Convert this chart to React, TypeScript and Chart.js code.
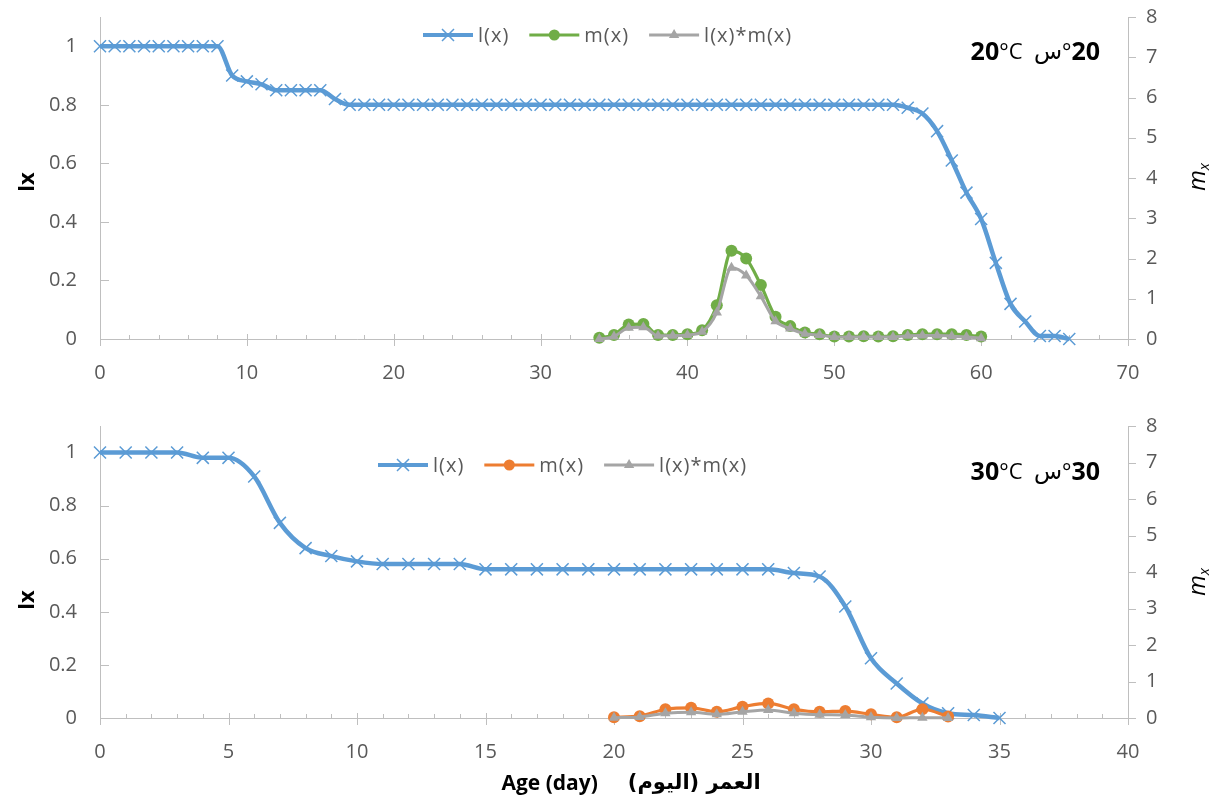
import React, { useEffect, useRef } from 'react';
import { Chart, registerables } from 'chart.js';

Chart.register(...registerables);

const FONT = "'Open Sans', 'DejaVu Sans', sans-serif";
const BLUE = '#5B9BD5';
const GREEN = '#70AD47';
const ORANGE = '#ED7D31';
const GRAY = '#A5A5A5';
const AXIS = '#BFBFBF';
const LABEL = '#595959';

// ---------- 20 °C panel ----------
const lxTopStartDay = 0;
const lxTop = [
  1, 1, 1, 1, 1, 1, 1, 1, 1,
  0.9, 0.88, 0.87, 0.85, 0.85, 0.85, 0.85, 0.82,
  0.8, 0.8, 0.8, 0.8, 0.8, 0.8, 0.8, 0.8, 0.8, 0.8,
  0.8, 0.8, 0.8, 0.8, 0.8, 0.8, 0.8, 0.8, 0.8, 0.8,
  0.8, 0.8, 0.8, 0.8, 0.8, 0.8, 0.8, 0.8, 0.8, 0.8,
  0.8, 0.8, 0.8, 0.8, 0.8, 0.8, 0.8, 0.8,
  0.79, 0.77, 0.71, 0.61, 0.5, 0.41, 0.26, 0.12, 0.06, 0.01, 0.01, 0,
];
const mTopStartDay = 34;
const mTop = [
  0.03, 0.1, 0.36, 0.37, 0.1, 0.1, 0.12, 0.22, 0.84, 2.19,
  2.0, 1.34, 0.55, 0.32, 0.16, 0.12, 0.06, 0.06, 0.07, 0.06,
  0.07, 0.1, 0.12, 0.12, 0.12, 0.1, 0.06,
];
const lmTop = [
  0, 0.06, 0.28, 0.29, 0.08, 0.08, 0.1, 0.18, 0.66, 1.77,
  1.58, 1.06, 0.44, 0.26, 0.13, 0.1, 0.05, 0.05, 0.05, 0.05,
  0.05, 0.08, 0.09, 0.09, 0.07, 0.05, 0.02,
];

// ---------- 30 °C panel ----------
const lxBotStartDay = 0;
const lxBot = [
  1, 1, 1, 1, 0.98, 0.98, 0.91, 0.735, 0.64, 0.61,
  0.59, 0.58, 0.58, 0.58, 0.58, 0.56, 0.56, 0.56, 0.56, 0.56,
  0.56, 0.56, 0.56, 0.56, 0.56, 0.56, 0.56, 0.546, 0.533, 0.42,
  0.225, 0.13, 0.055, 0.018, 0.011, 0,
];
const mBotStartDay = 20;
const mBot = [0.02, 0.05, 0.24, 0.28, 0.17, 0.31, 0.4, 0.24, 0.17, 0.19, 0.1, 0.02, 0.24, 0.04];
const lmBot = [0.01, 0.03, 0.13, 0.16, 0.1, 0.17, 0.22, 0.13, 0.09, 0.08, 0.02, 0, 0.01, 0];

// ---------- axes / labels ----------
const legendLabels = ['l(x)', 'm(x)', 'l(x)*m(x)'];
const lxAxisMax = 1.1;
const lxTickStep = 0.2;
const mAxisMax = 8;
const mTickStep = 1;
const xTitleEn = 'Age (day)';
const xTitleAr = 'العمر (اليوم)';
const yTitleLeft = 'lx';

const pts = (start: number, arr: number[]) => arr.map((v, i) => ({ x: start + i, y: v }));

function drawMarker(ctx: CanvasRenderingContext2D, style: string, cx: number, cy: number, color: string) {
  ctx.save();
  ctx.strokeStyle = color;
  ctx.fillStyle = color;
  if (style === 'crossRot') {
    const d = 6;
    ctx.lineWidth = 1.5;
    ctx.beginPath();
    ctx.moveTo(cx - d, cy - d); ctx.lineTo(cx + d, cy + d);
    ctx.moveTo(cx - d, cy + d); ctx.lineTo(cx + d, cy - d);
    ctx.stroke();
  } else if (style === 'circle') {
    ctx.beginPath();
    ctx.arc(cx, cy, 5.5, 0, Math.PI * 2);
    ctx.fill();
  } else if (style === 'triangle') {
    const r = 6;
    ctx.beginPath();
    ctx.moveTo(cx, cy - r);
    ctx.lineTo(cx + r * 0.866, cy + r * 0.5);
    ctx.lineTo(cx - r * 0.866, cy + r * 0.5);
    ctx.closePath();
    ctx.fill();
  }
  ctx.restore();
}

type PanelCfg = {
  lx: number[]; lxStart: number;
  m: number[]; lm: number[]; mStart: number;
  mColor: string;
  xMax: number; xStep: number; xLabelEvery: number;
  height: number; areaTop: number; areaBottom: number;
  legendX: number; legendY: number;
  titleNum: string; titleY: number;
  lxTitleY: number; mxTitleY: number;
  showXTitle: boolean; xTitleY: number;
};

function makePlugin(cfg: PanelCfg) {
  return {
    id: 'decor',
    beforeDatasetsDraw(chart: any) {
      const ctx: CanvasRenderingContext2D = chart.ctx;
      const { left, right, bottom } = chart.chartArea;
      const sx = chart.scales.x, sy = chart.scales.y, sy1 = chart.scales.y1;
      ctx.save();
      ctx.strokeStyle = AXIS;
      ctx.lineWidth = 1;
      ctx.beginPath();
      sx.ticks.forEach((t: any) => {
        const px = Math.round(sx.getPixelForValue(t.value)) + 0.5;
        const major = Math.abs(t.value % cfg.xLabelEvery) < 1e-6;
        ctx.moveTo(px, bottom - (major ? 5 : 4));
        ctx.lineTo(px, bottom + (major ? 7 : 0));
      });
      sy.ticks.forEach((t: any) => {
        const py = Math.round(sy.getPixelForValue(t.value)) + 0.5;
        ctx.moveTo(left, py); ctx.lineTo(left + 9, py);
      });
      sy1.ticks.forEach((t: any) => {
        const py = Math.round(sy1.getPixelForValue(t.value)) + 0.5;
        ctx.moveTo(right, py); ctx.lineTo(right + 8, py);
      });
      ctx.stroke();
      ctx.restore();
    },
    afterDraw(chart: any) {
      const ctx: CanvasRenderingContext2D = chart.ctx;
      ctx.save();
      // legend
      const items = [
        { label: legendLabels[0], color: BLUE, style: 'crossRot', lw: 4 },
        { label: legendLabels[1], color: cfg.mColor, style: 'circle', lw: 3 },
        { label: legendLabels[2], color: GRAY, style: 'triangle', lw: 3 },
      ];
      ctx.font = `20px ${FONT}`;
      ctx.textBaseline = 'middle';
      ctx.textAlign = 'left';
      let x = cfg.legendX;
      const yc = cfg.legendY;
      for (const it of items) {
        ctx.strokeStyle = it.color;
        ctx.lineWidth = it.lw;
        ctx.beginPath();
        ctx.moveTo(x, yc); ctx.lineTo(x + 50, yc);
        ctx.stroke();
        drawMarker(ctx, it.style, x + 25, yc, it.color);
        ctx.fillStyle = LABEL;
        ctx.font = `20px ${FONT}`;
        (ctx as any).letterSpacing = '1px';
        ctx.fillText(it.label, x + 55, yc + 1);
        x += 55 + ctx.measureText(it.label).width + 20;
        (ctx as any).letterSpacing = '0px';
      }
      // panel title: "20°C  س°20"
      const segs = [
        { t: cfg.titleNum, f: `bold 25px ${FONT}` },
        { t: '°C', f: `22px ${FONT}` },
        { t: '  ', f: `22px ${FONT}` },
        { t: 'س', f: `23px 'DejaVu Sans', sans-serif` },
        { t: '°', f: `22px ${FONT}` },
        { t: cfg.titleNum, f: `bold 25px ${FONT}` },
      ];
      let tw = 0;
      for (const s of segs) { ctx.font = s.f; tw += ctx.measureText(s.t).width; }
      let tx = 1100 - tw;
      ctx.fillStyle = '#000';
      ctx.textAlign = 'left';
      ctx.textBaseline = 'middle';
      for (const s of segs) {
        ctx.font = s.f;
        ctx.fillText(s.t, tx, cfg.titleY);
        tx += ctx.measureText(s.t).width;
      }
      // left axis title
      ctx.save();
      ctx.translate(28, cfg.lxTitleY);
      ctx.rotate(-Math.PI / 2);
      ctx.font = `bold 22px ${FONT}`;
      ctx.textAlign = 'center';
      ctx.fillStyle = '#000';
      ctx.fillText(yTitleLeft, 0, 0);
      ctx.restore();
      // right axis title m_x
      ctx.save();
      ctx.translate(1197, cfg.mxTitleY);
      ctx.rotate(-Math.PI / 2);
      ctx.fillStyle = '#000';
      ctx.textBaseline = 'alphabetic';
      ctx.font = `italic 24px ${FONT}`;
      const mw = ctx.measureText('m').width;
      ctx.font = `italic 15px ${FONT}`;
      const xw = ctx.measureText('x').width;
      const sx0 = -(mw + xw) / 2;
      ctx.font = `italic 24px ${FONT}`;
      ctx.textAlign = 'left';
      ctx.fillText('m', sx0, 8);
      ctx.font = `italic 15px ${FONT}`;
      ctx.fillText('x', sx0 + mw, 12);
      ctx.restore();
      // x axis title
      if (cfg.showXTitle) {
        ctx.font = `bold 21px ${FONT}`;
        const ew = ctx.measureText(xTitleEn).width;
        ctx.font = `bold 21px 'DejaVu Sans', sans-serif`;
        const aw = ctx.measureText(xTitleAr).width;
        const gap = 30;
        const start = 631 - (ew + gap + aw) / 2;
        ctx.fillStyle = '#000';
        ctx.textBaseline = 'middle';
        ctx.font = `bold 21px ${FONT}`;
        ctx.textAlign = 'left';
        ctx.direction = 'ltr';
        ctx.fillText(xTitleEn, start, cfg.xTitleY);
        ctx.font = `bold 21px 'DejaVu Sans', sans-serif`;
        ctx.direction = 'rtl';
        ctx.textAlign = 'right';
        ctx.fillText(xTitleAr, start + ew + gap + aw, cfg.xTitleY);
      }
      ctx.restore();
    },
  };
}

function buildConfig(cfg: PanelCfg): any {
  const tickFont = { family: FONT, size: 20 };
  const gridOff = { display: true, drawOnChartArea: false, drawTicks: false };
  const border = { display: true, color: AXIS, width: 1 };
  const noPad = (s: any) => { s.paddingTop = 0; s.paddingBottom = 0; s.paddingLeft = 0; s.paddingRight = 0; };
  return {
    type: 'line',
    data: {
      datasets: [
        {
          label: legendLabels[0], data: pts(cfg.lxStart, cfg.lx), yAxisID: 'y',
          borderColor: BLUE, borderWidth: 4.5, pointStyle: 'crossRot', pointRadius: 8.5,
          pointBorderColor: BLUE, pointBorderWidth: 1.5, pointBackgroundColor: BLUE,
          cubicInterpolationMode: 'monotone', clip: false, order: 3, fill: false,
        },
        {
          label: legendLabels[1], data: pts(cfg.mStart, cfg.m), yAxisID: 'y1',
          borderColor: cfg.mColor, borderWidth: 3.2, pointStyle: 'circle', pointRadius: 6,
          pointBorderColor: cfg.mColor, pointBorderWidth: 0, pointBackgroundColor: cfg.mColor,
          cubicInterpolationMode: 'monotone', clip: false, order: 2, fill: false,
        },
        {
          label: legendLabels[2], data: pts(cfg.mStart, cfg.lm), yAxisID: 'y1',
          borderColor: GRAY, borderWidth: 3, pointStyle: 'triangle', pointRadius: 6,
          pointBorderColor: GRAY, pointBorderWidth: 0, pointBackgroundColor: GRAY,
          cubicInterpolationMode: 'monotone', clip: false, order: 1, fill: false,
        },
      ],
    },
    options: {
      responsive: false,
      animation: false,
      devicePixelRatio: 1,
      events: [],
      layout: { padding: { top: cfg.areaTop, left: 0, right: 0, bottom: 0 } },
      plugins: { legend: { display: false }, tooltip: { enabled: false }, title: { display: false } },
      scales: {
        x: {
          type: 'linear', min: 0, max: cfg.xMax,
          afterFit: (s: any) => { s.height = cfg.height - cfg.areaBottom; noPad(s); },
          ticks: {
            stepSize: cfg.xStep, autoSkip: false, maxRotation: 0, padding: 22,
            color: LABEL, font: tickFont,
            callback: (v: number) => (Math.abs(v % cfg.xLabelEvery) < 1e-6 ? String(v) : ''),
          },
          grid: gridOff, border,
        },
        y: {
          type: 'linear', position: 'left', min: 0, max: lxAxisMax,
          afterBuildTicks: (s: any) => { s.ticks = s.ticks.filter((t: any) => t.value <= 1.0001); },
          afterFit: (s: any) => { s.width = 100; noPad(s); },
          ticks: {
            stepSize: lxTickStep, padding: 23, color: LABEL, font: tickFont,
            callback: (v: number) => String(Math.round(v * 10) / 10),
          },
          grid: gridOff, border,
        },
        y1: {
          type: 'linear', position: 'right', min: 0, max: mAxisMax,
          afterFit: (s: any) => { s.width = 1216 - 1128; noPad(s); },
          ticks: { stepSize: mTickStep, padding: 18, color: LABEL, font: tickFont },
          grid: gridOff, border,
        },
      },
    },
    plugins: [makePlugin(cfg)],
  };
}

const topCfg: PanelCfg = {
  lx: lxTop, lxStart: lxTopStartDay, m: mTop, lm: lmTop, mStart: mTopStartDay,
  mColor: GREEN, xMax: 70, xStep: 2, xLabelEvery: 10,
  height: 400, areaTop: 17, areaBottom: 339,
  legendX: 423, legendY: 35, titleNum: '20', titleY: 53,
  lxTitleY: 182, mxTitleY: 177, showXTitle: false, xTitleY: 0,
};

const botCfg: PanelCfg = {
  lx: lxBot, lxStart: lxBotStartDay, m: mBot, lm: lmBot, mStart: mBotStartDay,
  mColor: ORANGE, xMax: 40, xStep: 1, xLabelEvery: 5,
  height: 404, areaTop: 26, areaBottom: 318,
  legendX: 378, legendY: 65, titleNum: '30', titleY: 73,
  lxTitleY: 200, mxTitleY: 182, showXTitle: true, xTitleY: 384,
};

function Panel({ cfg, top }: { cfg: PanelCfg; top: number }) {
  const ref = useRef<HTMLCanvasElement>(null);
  useEffect(() => {
    const chart = new Chart(ref.current as HTMLCanvasElement, buildConfig(cfg));
    return () => chart.destroy();
  }, []);
  return (
    <canvas
      ref={ref}
      width={1216}
      height={cfg.height}
      style={{ position: 'absolute', left: 0, top, width: 1216, height: cfg.height, display: 'block' }}
    />
  );
}

export default function App() {
  return (
    <div style={{ position: 'absolute', left: 0, top: 0, width: 1216, height: 804, background: '#fff', overflow: 'hidden' }}>
      <Panel cfg={topCfg} top={0} />
      <Panel cfg={botCfg} top={400} />
    </div>
  );
}
